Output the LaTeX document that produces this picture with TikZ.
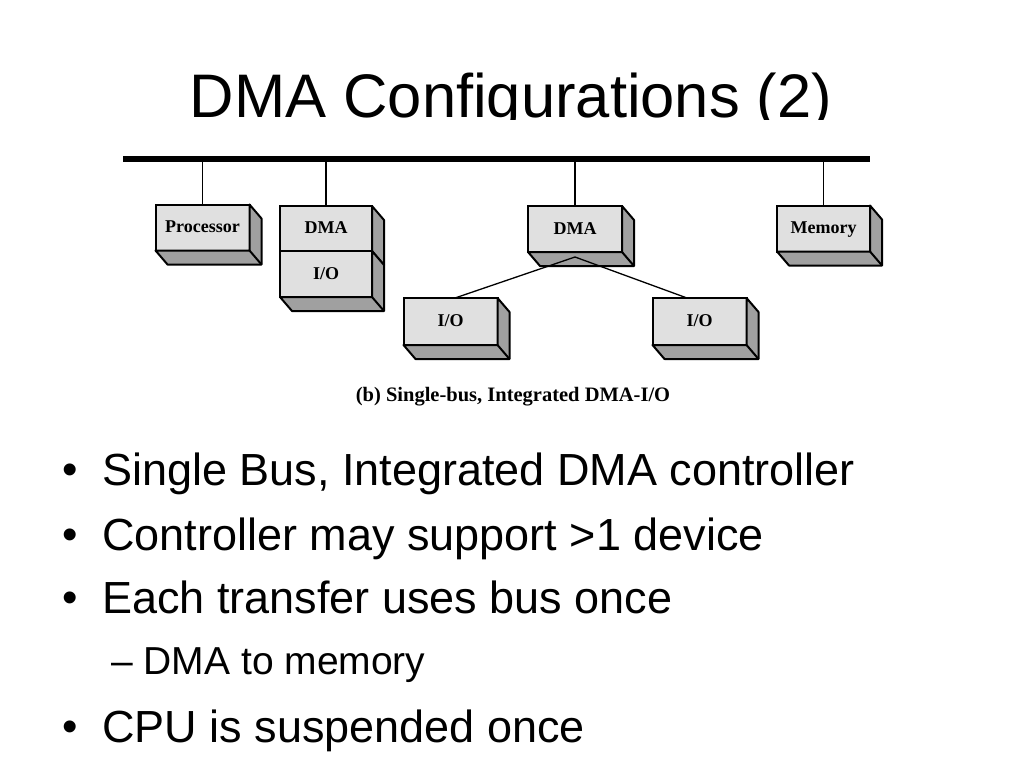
\documentclass[tikz,border=0pt]{standalone}
\usepackage{fontspec}
\setmainfont{Liberation Sans}
\newfontfamily\serifb{Liberation Serif}
\usetikzlibrary{calc}
\definecolor{frontgray}{HTML}{E0E0E0}
\definecolor{sidegray}{HTML}{A0A0A0}
\newcommand{\boxfaces}[1]{%
  \path[fill=sidegray, draw=black, line width=2pt, line join=round]
    (#1.north east) -- ++(12,14) -- ($(#1.south east)+(12,14)$) -- ($(#1.south west)+(12,14)$)
    -- (#1.south west) -- (#1.south east) -- cycle;
  \draw[line width=2pt, line join=round] (#1.south east) -- ++(12,14);}
\tikzset{
  dbox/.style={draw=black, fill=frontgray, line width=2pt, minimum width=94pt, minimum height=46pt,
    inner sep=0pt, outer sep=0pt, text height=11pt, text depth=1pt,
    font=\serifb\bfseries\fontsize{18}{18}\selectfont},
  tap/.style={line width=1.3pt},
  bul/.style={anchor=base, inner sep=0pt, font=\fontsize{44}{44}\selectfont},
  btext/.style={anchor=base west, inner sep=0pt, font=\fontsize{45}{45}\selectfont},
  stext/.style={anchor=base west, inner sep=0pt, font=\fontsize{39}{39}\selectfont}
}
\begin{document}
\begin{tikzpicture}[x=1pt,y=-1pt]
\useasboundingbox[fill=white] (0,0) rectangle (1024,768);
% title (clipped at bottom as in the reference)
\begin{scope}
  \clip (0,0) rectangle (1024,119);
  \node[anchor=base, inner sep=0pt, font=\fontsize{61.5}{61.5}\selectfont] (title) at (511,117) {DMA Configurations (2)};
\end{scope}
% bus
\coordinate (busL) at (123,159);
\coordinate (busR) at (870,159);
\draw[line width=6pt] (busL) -- (busR);
% processor
\node[dbox] (proc) at (202.5,227.5) {Processor};
\boxfaces{proc}
\draw[tap] (proc.north) -- (proc.north |- busL);
% DMA + I/O stack
\node[dbox, minimum width=92pt, minimum height=45pt] (dmaa) at (326,228.5) {DMA};
\boxfaces{dmaa}
\node[dbox, minimum width=92pt, minimum height=46pt] (ioa) at (326,274) {I/O};
\boxfaces{ioa}
\draw[tap] (dmaa.north) -- (dmaa.north |- busL);
% central DMA
\node[dbox] (dmab) at (575,229) {DMA};
\boxfaces{dmab}
\draw[tap] (dmab.north) -- (dmab.north |- busL);
% memory
\node[dbox, minimum width=93pt] (mem) at (823.5,228.5) {Memory};
\boxfaces{mem}
\draw[tap] (mem.north) -- (mem.north |- busL);
% attached I/O devices
\node[dbox, minimum height=47pt] (iob) at (450.5,321.5) {I/O};
\boxfaces{iob}
\node[dbox, minimum height=47pt] (ioc) at (699.5,321.5) {I/O};
\boxfaces{ioc}
\coordinate (apex) at ($(dmab.south)+(0,5)$);
\draw[tap] (apex) -- ($(iob.north)+(4.5,0)$);
\draw[tap] (apex) -- ($(ioc.north)+(-12.5,0)$);
% caption
\node[anchor=base, inner sep=0pt, font=\serifb\bfseries\fontsize{20.5}{20.5}\selectfont] (cap) at (513,401) {(b) Single-bus, Integrated DMA-I/O};
% bullets
\node[bul] (b1) at (70,485) {\raisebox{1pt}{•}};
\node[btext] (t1) at (102,485) {Single Bus, Integrated DMA controller};
\node[bul] (b2) at (70,550) {\raisebox{1pt}{•}};
\node[btext] (t2) at (102,550) {Controller may support >1 device};
\node[bul] (b3) at (70,613) {\raisebox{1pt}{•}};
\node[btext] (t3) at (102,613) {Each transfer uses bus once};
\node[stext] (t4) at (111,674) {– DMA to memory};
\node[bul] (b5) at (70,742) {\raisebox{1pt}{•}};
\node[btext] (t5) at (102,742) {CPU is suspended once};
\end{tikzpicture}
\end{document}
